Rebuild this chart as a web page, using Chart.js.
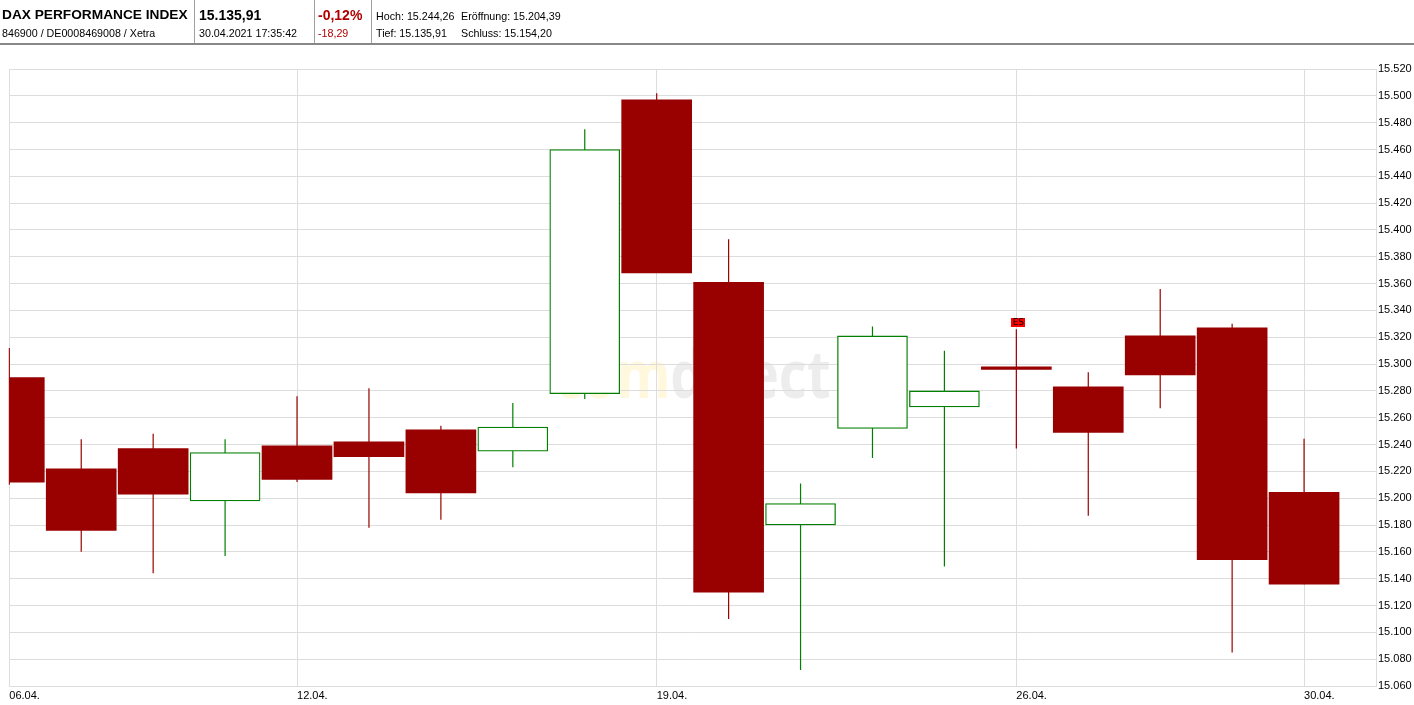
<!DOCTYPE html>
<html>
<head>
<meta charset="utf-8">
<script src="https://cdn.jsdelivr.net/npm/chart.js@4"></script>
<style>
  html, body { margin: 0; padding: 0; background: #fff; }
  body { width: 1414px; height: 705px; position: relative; overflow: hidden;
         font-family: "Liberation Sans", Arial, sans-serif; color: #000; }
  #chart { position: absolute; left: 0; top: 0; }
  .hd { position: absolute; white-space: nowrap; line-height: 1; }
  .big { font-size: 14px; font-weight: bold; }
  .small { font-size: 10.7px; }
  .red { color: #b00000; }
  .sep { position: absolute; top: 0; width: 1px; height: 43px; background: #a0a0a0; }
  #bar { position: absolute; left: 0; top: 43px; width: 1414px; height: 2px; background: #888; }
</style>
</head>
<body>
<canvas id="chart" width="1414" height="705"></canvas>

<div class="hd big" style="left:2px; top:8px; font-size:13.7px;">DAX PERFORMANCE INDEX</div>
<div class="hd small" style="left:2px; top:28px;">846900 / DE0008469008 / Xetra</div>
<div class="sep" style="left:194px;"></div>
<div class="hd big" style="left:199px; top:8px;">15.135,91</div>
<div class="hd small" style="left:199px; top:28px;">30.04.2021 17:35:42</div>
<div class="sep" style="left:314px;"></div>
<div class="hd big red" style="left:318px; top:8px;">-0,12%</div>
<div class="hd small red" style="left:318px; top:28px;">-18,29</div>
<div class="sep" style="left:371px;"></div>
<div class="hd small" style="left:376px; top:11px;">Hoch: 15.244,26</div>
<div class="hd small" style="left:461px; top:11px;">Eröffnung: 15.204,39</div>
<div class="hd small" style="left:376px; top:28px;">Tief: 15.135,91</div>
<div class="hd small" style="left:461px; top:28px;">Schluss: 15.154,20</div>
<div id="bar"></div>

<script>
// trading days shown on the chart
const dates = ['06.04.', '07.04.', '08.04.', '09.04.', '12.04.', '13.04.', '14.04.', '15.04.', '16.04.',
               '19.04.', '20.04.', '21.04.', '22.04.', '23.04.', '26.04.', '27.04.', '28.04.', '29.04.', '30.04.'];

// OHLC values
const opens  = [15290, 15222, 15237, 15198, 15239, 15242, 15251, 15235, 15278,
                15497, 15361, 15180, 15252, 15268, 15298, 15283, 15321, 15327, 15204.39];
const highs  = [15312, 15244, 15248, 15244, 15276, 15282, 15254, 15271, 15475,
                15502, 15393, 15211, 15328, 15310, 15326, 15294, 15356, 15330, 15244.26];
const lows   = [15210, 15160, 15144, 15157, 15212, 15178, 15184, 15223, 15274,
                15368, 15110, 15072, 15230, 15149, 15237, 15187, 15267, 15085, 15135.91];
const closes = [15212, 15176, 15203, 15234, 15214, 15231, 15204, 15253, 15460,
                15368, 15130, 15196, 15321, 15280, 15296, 15249, 15292, 15154.20, 15135.91];

// x axis labels and y axis range
const labelDays = ['06.04.', '12.04.', '19.04.', '26.04.', '30.04.'];
const yMin = 15060;
const yMax = 15520;
const yStep = 20;

// small event marker
const markerDays = ['26.04.'];
const markerTexts = ['ES'];

const RED = '#990000';
const GREEN = '#008000';

let isUp = i => closes[i] >= opens[i];

let formatPrice = v => {
    let s = String(Math.round(v));
    return s.slice(0, s.length - 3) + '.' + s.slice(s.length - 3);
};

let bodyData = dates.map((d, i) => ({ x: i, y: [opens[i], closes[i]] }));
let wickData = dates.map((d, i) => ({ x: i, y: [lows[i], highs[i]] }));

// faint logo in the middle of the plot
const watermark = {
    id: 'watermark',
    beforeDraw(chart) {
        let { ctx, chartArea } = chart;
        let cx = (chartArea.left + chartArea.right) / 2;
        ctx.save();
        ctx.font = 'bold 66px "Open Sans", sans-serif';
        let w1 = ctx.measureText('com').width;
        let w2 = ctx.measureText('direct').width;
        let sx = 276 / (w1 + w2);
        ctx.translate(cx - 138, 398);
        ctx.scale(sx, 1);
        ctx.textBaseline = 'alphabetic';
        ctx.textAlign = 'left';
        ctx.fillStyle = '#fff8dc';
        ctx.fillText('com', 0, 0);
        ctx.fillStyle = '#ededed';
        ctx.fillText('direct', w1, 0);
        ctx.restore();
    }
};

const markers = {
    id: 'markers',
    afterDatasetsDraw(chart) {
        let ctx = chart.ctx;
        let xs = chart.scales.x, ys = chart.scales.y;
        markerDays.forEach((d, k) => {
            let i = dates.indexOf(d);
            let x = xs.getPixelForValue(i) + 2;
            let y = ys.getPixelForValue(highs[i]) - 7;
            ctx.save();
            ctx.fillStyle = '#ff0000';
            ctx.fillRect(Math.round(x - 7), Math.round(y - 4.5), 14, 9);
            ctx.fillStyle = '#000';
            ctx.font = '9px "DejaVu Sans", sans-serif';
            ctx.textAlign = 'center';
            ctx.textBaseline = 'middle';
            ctx.fillText(markerTexts[k], x, y + 0.5);
            ctx.restore();
        });
    }
};

let tickIdx = labelDays.map(d => dates.indexOf(d));

new Chart(document.getElementById('chart').getContext('2d'), {
    type: 'bar',
    data: {
        datasets: [
            {
                label: 'Body',
                data: bodyData,
                grouped: false,
                barThickness: 70,
                backgroundColor: dates.map((d, i) => isUp(i) ? '#ffffff' : RED),
                borderColor: dates.map((d, i) => isUp(i) ? GREEN : RED),
                borderWidth: dates.map((d, i) => isUp(i) ? 1.3 : 0),
                borderSkipped: false,
                clip: 0
            },
            {
                label: 'Wick',
                data: wickData,
                grouped: false,
                barThickness: 1.2,
                inflateAmount: 0,
                backgroundColor: dates.map((d, i) => isUp(i) ? GREEN : RED),
                borderWidth: 0,
                clip: 1
            }
        ]
    },
    options: {
        responsive: false,
        animation: false,
        devicePixelRatio: 1,
        layout: { padding: { left: 9.3, top: 69, right: 0, bottom: 0 } },
        plugins: {
            legend: { display: false },
            tooltip: { enabled: false }
        },
        scales: {
            x: {
                type: 'linear',
                min: 0,
                max: dates.length,
                offset: false,
                afterBuildTicks: axis => { axis.ticks = tickIdx.map(v => ({ value: v })); },
                afterFit: axis => { axis.height = 19; },
                grid: { color: '#dddddd', drawTicks: false, offset: false },
                border: { color: '#dddddd' },
                ticks: {
                    autoSkip: false,
                    maxRotation: 0,
                    align: 'start',
                    padding: 3,
                    color: '#000',
                    font: { family: '"Liberation Sans", Arial, sans-serif', size: 11 },
                    callback: v => dates[v]
                }
            },
            y: {
                position: 'right',
                min: yMin,
                max: yMax,
                afterFit: axis => { axis.width = 38; },
                grid: { color: '#dddddd', drawTicks: false },
                border: { color: '#dddddd' },
                ticks: {
                    stepSize: yStep,
                    autoSkip: false,
                    padding: 2,
                    color: '#000',
                    font: { family: '"Liberation Sans", Arial, sans-serif', size: 11 },
                    callback: v => formatPrice(v)
                }
            }
        }
    },
    plugins: [watermark, markers]
});
</script>
</body>
</html>
